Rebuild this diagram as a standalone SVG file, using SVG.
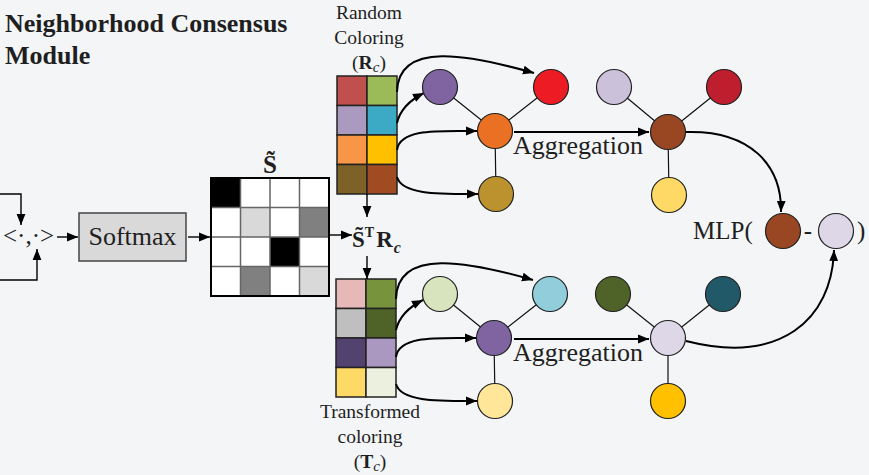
<svg xmlns="http://www.w3.org/2000/svg" width="869" height="475" viewBox="0 0 869 475">
<defs>
<marker id="ahb" viewBox="0 0 10 10" refX="10" refY="5" markerWidth="11" markerHeight="11" orient="auto" markerUnits="userSpaceOnUse">
<path d="M0,1 L10,5 L0,9 z" fill="#000"/>
</marker>
<style>
.t{font-family:"Liberation Serif","Times New Roman",serif;fill:#1f1f1f}
.title{font-size:26px;font-weight:bold}
.lbl{font-size:19.5px;text-anchor:middle}
.big{font-size:26px}
.c{stroke:#222;stroke-width:1.2}
.e{stroke:#111;stroke-width:1.2;fill:none}
.a{stroke:#000;stroke-width:2;fill:none;marker-end:url(#ahb)}
.s{stroke:#000;stroke-width:1.4;fill:none;marker-end:url(#ahb)}
.cell{stroke:#222;stroke-width:1.5}
.m{stroke:#666;stroke-width:1.5}
</style>
</defs>
<rect width="869" height="475" fill="#f3f5f7"/>

<g id="title">
<text class="t title" x="5" y="32">Neighborhood Consensus</text>
<text class="t title" x="5" y="64">Module</text>
</g>

<g id="inner">
<text class="t" x="3" y="244" font-size="25">&lt;·,·&gt;</text>
</g>

<g id="softmax">
<rect x="79" y="213" width="107" height="48" fill="#d9d9d9" stroke="#444" stroke-width="1.5"/>
<text class="t" x="132.5" y="245" font-size="26" text-anchor="middle">Softmax</text>
</g>

<g id="matrix">
<text class="t" x="270" y="173" font-size="25" font-weight="bold" text-anchor="middle">S̃</text>
<rect x="211" y="178" width="118" height="118" fill="#fff"/>
<rect x="211" y="178" width="29.5" height="29.5" fill="#000"/>
<rect x="240.5" y="207.5" width="29.5" height="29.5" fill="#d9d9d9"/>
<rect x="299.5" y="207.5" width="29.5" height="29.5" fill="#808080"/>
<rect x="270" y="237" width="29.5" height="29.5" fill="#000"/>
<rect x="240.5" y="266.5" width="29.5" height="29.5" fill="#808080"/>
<rect x="299.5" y="266.5" width="29.5" height="29.5" fill="#d9d9d9"/>
<path class="m" d="M240.5,178V296M270,178V296M299.5,178V296M211,207.5H329M211,237H329M211,266.5H329"/>
<rect x="211" y="178" width="118" height="118" fill="none" stroke="#000" stroke-width="2"/>
</g>

<g id="rc">
<text class="t lbl" x="369" y="19">Random</text>
<text class="t lbl" x="369" y="44">Coloring</text>
<text class="t lbl" x="369" y="69">(<tspan font-weight="bold">R</tspan><tspan font-style="italic" font-size="15" dy="3">c</tspan><tspan dy="-3">)</tspan></text>
<rect class="cell" x="337" y="76" width="30" height="29.5" fill="#c0504d"/>
<rect class="cell" x="367" y="76" width="30" height="29.5" fill="#9bbb59"/>
<rect class="cell" x="337" y="105.5" width="30" height="29.5" fill="#ab9ac0"/>
<rect class="cell" x="367" y="105.5" width="30" height="29.5" fill="#3caac4"/>
<rect class="cell" x="337" y="135" width="30" height="29.5" fill="#f79646"/>
<rect class="cell" x="367" y="135" width="30" height="29.5" fill="#ffc000"/>
<rect class="cell" x="337" y="164.5" width="30" height="29.5" fill="#7d6128"/>
<rect class="cell" x="367" y="164.5" width="30" height="29.5" fill="#a04b22"/>
</g>

<g id="str">
<text class="t" x="352" y="247" font-size="23" font-weight="bold">S̃<tspan font-size="14" dy="-10">T</tspan><tspan font-size="23" dy="10" dx="2">R</tspan><tspan font-size="16" font-style="italic" dy="6" dx="1">c</tspan></text>
</g>

<g id="tc">
<rect class="cell" x="336" y="279" width="30" height="29.5" fill="#e6b9b8"/>
<rect class="cell" x="366" y="279" width="30" height="29.5" fill="#77933c"/>
<rect class="cell" x="336" y="308.5" width="30" height="29.5" fill="#bfbfbf"/>
<rect class="cell" x="366" y="308.5" width="30" height="29.5" fill="#4f6228"/>
<rect class="cell" x="336" y="338" width="30" height="29.5" fill="#524270"/>
<rect class="cell" x="366" y="338" width="30" height="29.5" fill="#aa98c0"/>
<rect class="cell" x="336" y="367.5" width="30" height="29.5" fill="#ffd966"/>
<rect class="cell" x="366" y="367.5" width="30" height="29.5" fill="#ebf1de"/>
<text class="t lbl" x="370" y="418">Transformed</text>
<text class="t lbl" x="370" y="443">coloring</text>
<text class="t lbl" x="370" y="468">(<tspan font-weight="bold">T</tspan><tspan font-style="italic" font-size="15" dy="3">c</tspan><tspan dy="-3">)</tspan></text>
</g>

<g id="connectors">
<path class="s" d="M0,194H21V225"/>
<path class="s" d="M0,280H37V249"/>
<path class="s" d="M57,237H78"/>
<path class="s" d="M188,237H210"/>
<path class="s" d="M329,235H352"/>
<path class="s" d="M367,194V217"/>
<path class="s" d="M367,256V279"/>
<path class="a" d="M397,92C398,40 470,55 534,73"/>
<path class="a" d="M397,123C400,110 410,100 424,93"/>
<path class="a" d="M397,150C400,128 440,131 477,131"/>
<path class="a" d="M397,177C402,195 440,194 478,194"/>
<path class="a" d="M396,299C397,247 470,262 533,280"/>
<path class="a" d="M396,330C399,317 409,307 423,300"/>
<path class="a" d="M396,357C399,335 439,338 476,338"/>
<path class="a" d="M396,384C401,402 439,401 477,401"/>
<path class="a" d="M514,132H649"/>
<path class="a" d="M514,339H649"/>
<path class="a" d="M686,132C750,130 782,165 781,212"/>
<path class="a" d="M686,341C780,365 832,320 834,250"/>
</g>

<g id="graph1">
<path class="e" d="M495,131L440,87M495,131L551,87M495,131L496,194"/>
<circle class="c" cx="440" cy="87" r="17.5" fill="#8064a2"/>
<circle class="c" cx="551" cy="87" r="17.5" fill="#ed1c24"/>
<circle class="c" cx="495" cy="131" r="17.5" fill="#ea7024"/>
<circle class="c" cx="496" cy="194" r="17.5" fill="#bb922e"/>
</g>

<g id="agg1">
<text class="t big" x="513" y="154">Aggregation</text>
</g>

<g id="graph2">
<path class="e" d="M668,132L614,87M668,132L724,87M668,132L669,195"/>
<circle class="c" cx="614" cy="87" r="17.5" fill="#ccc1da"/>
<circle class="c" cx="724" cy="87" r="17.5" fill="#be1e2d"/>
<circle class="c" cx="668" cy="132" r="17.5" fill="#984722"/>
<circle class="c" cx="669" cy="195" r="17.5" fill="#ffd966"/>
</g>

<g id="graph3">
<path class="e" d="M494,338L440,294M494,338L550,294M494,338L495,401"/>
<circle class="c" cx="440" cy="294" r="17.5" fill="#d7e4bd"/>
<circle class="c" cx="550" cy="294" r="17.5" fill="#92cddc"/>
<circle class="c" cx="494" cy="338" r="17.5" fill="#8064a2"/>
<circle class="c" cx="495" cy="401" r="17.5" fill="#ffe699"/>
</g>

<g id="agg2">
<text class="t big" x="513" y="361">Aggregation</text>
</g>

<g id="graph4">
<path class="e" d="M668,338L613,294M668,338L723,294M668,338L668,401"/>
<circle class="c" cx="613" cy="294" r="17.5" fill="#4f6228"/>
<circle class="c" cx="723" cy="294" r="17.5" fill="#215968"/>
<circle class="c" cx="668" cy="338" r="17.5" fill="#ddd7e8"/>
<circle class="c" cx="668" cy="401" r="17.5" fill="#ffc000"/>
</g>

<g id="mlp">
<text class="t" x="693" y="239" font-size="25">MLP(</text>
<circle class="c" cx="783" cy="231" r="17.5" fill="#984722"/>
<text class="t" x="808" y="239" font-size="25" text-anchor="middle">-</text>
<circle class="c" cx="836" cy="231" r="17.5" fill="#ddd7e8"/>
<text class="t" x="857" y="239" font-size="25">)</text>
</g>
</svg>
